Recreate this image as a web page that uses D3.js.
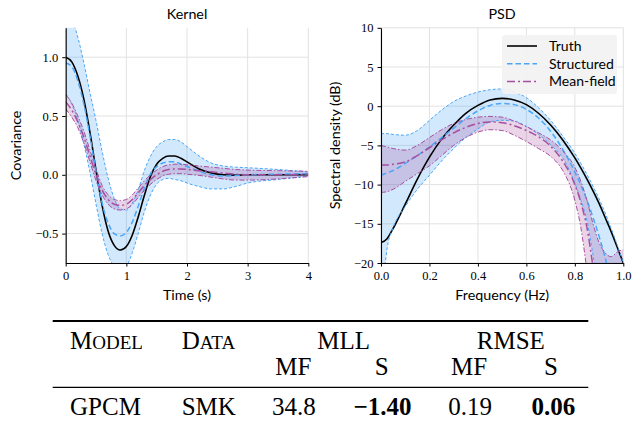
<!DOCTYPE html>
<html>
<head>
<meta charset="utf-8">
<script src="https://cdn.jsdelivr.net/npm/d3@7"></script>
<style>
  body { margin: 0; background: #fff; }
  svg { display: block; }
  .tick text { font-family: "Liberation Serif", serif; font-size: 12.5px; fill: #000; }
  .lbl { font-family: Lato, "DejaVu Sans", sans-serif; font-size: 14.3px; fill: #000; }
  .leg { font-family: Lato, "DejaVu Sans", sans-serif; font-size: 14px; fill: #000; }
  .tbl { font-family: "Liberation Serif", serif; font-size: 25px; fill: #000; }
</style>
</head>
<body>
<div id="chart"></div>
<script>
// ---- kernel panel (time in seconds) ----
const kernelTime = [0, 0.1, 0.2, 0.3, 0.4, 0.5, 0.6, 0.7, 0.8, 0.9, 1.0, 1.1, 1.2, 1.3, 1.4,
  1.5, 1.6, 1.7, 1.8, 1.9, 2.0, 2.2, 2.4, 2.6, 2.8, 3.0, 3.5, 4.0]
const kernelTruth = [1.00, 0.96, 0.84, 0.64, 0.36, 0.04, -0.26, -0.48, -0.60, -0.64, -0.61, -0.51, -0.35, -0.17, -0.01,
  0.09, 0.14, 0.16, 0.16, 0.14, 0.11, 0.05, 0.015, 0.0, -0.003, 0.0, 0.0, 0.0]
const kernelS = [0.95, 0.92, 0.80, 0.60, 0.33, 0.03, -0.24, -0.41, -0.50, -0.52, -0.49, -0.40, -0.26, -0.11, 0.01,
  0.07, 0.10, 0.11, 0.11, 0.09, 0.07, 0.03, 0.0, -0.01, -0.005, 0.0, 0.005, 0.01]
const kernelSUpper = [1.42, 1.33, 1.17, 0.95, 0.70, 0.46, 0.20, -0.03, -0.20, -0.29, -0.30, -0.24, -0.12, 0.04, 0.16,
  0.24, 0.28, 0.30, 0.30, 0.28, 0.24, 0.16, 0.10, 0.075, 0.065, 0.06, 0.045, 0.025]
const kernelSLower = [0.69, 0.60, 0.46, 0.26, 0.02, -0.25, -0.50, -0.68, -0.78, -0.82, -0.78, -0.66, -0.49, -0.31, -0.17,
  -0.08, -0.04, -0.03, -0.04, -0.05, -0.07, -0.10, -0.12, -0.12, -0.10, -0.07, -0.04, -0.01]
const kernelMF = [0.62, 0.55, 0.45, 0.32, 0.16, 0.00, -0.13, -0.21, -0.25, -0.26, -0.25, -0.21, -0.15, -0.09, -0.04,
  0.00, 0.03, 0.045, 0.05, 0.05, 0.045, 0.035, 0.025, 0.015, 0.005, 0.0, 0.0, 0.005]
const kernelMFUpper = [0.68, 0.61, 0.50, 0.37, 0.21, 0.05, -0.09, -0.17, -0.21, -0.22, -0.21, -0.17, -0.11, -0.05, 0.00,
  0.04, 0.07, 0.085, 0.09, 0.09, 0.085, 0.075, 0.065, 0.055, 0.045, 0.04, 0.035, 0.03]
const kernelMFLower = [0.56, 0.49, 0.40, 0.27, 0.11, -0.05, -0.17, -0.25, -0.29, -0.30, -0.29, -0.25, -0.19, -0.13, -0.08,
  -0.04, -0.01, 0.005, 0.01, 0.01, 0.005, -0.005, -0.02, -0.035, -0.045, -0.045, -0.035, -0.015]

// ---- PSD panel (frequency in Hz, values in dB) ----
const psdFreq = [0, 0.025, 0.05, 0.1, 0.15, 0.2, 0.25, 0.3, 0.35, 0.4, 0.45, 0.5, 0.55, 0.6, 0.65,
  0.7, 0.75, 0.8, 0.825, 0.85, 0.875, 0.9, 0.925, 0.95, 0.975, 1.0]
const psdTruth = [-17.4, -16.9, -15.6, -12.5, -9.3, -6.5, -4.2, -2.4, -0.9, 0.1, 0.8, 1.0, 0.8, 0.2, -0.9,
  -2.4, -4.3, -6.6, -7.9, -9.3, -10.8, -12.4, -14.2, -16.0, -18.0, -20.0]
const psdS = [-8.8, -8.5, -8.2, -7.3, -6.3, -5.2, -4.0, -2.8, -1.6, -0.6, 0.1, 0.35, 0.2, -0.4, -1.5,
  -3.2, -5.5, -8.4, -10.1, -12.0, -14.2, -16.6, -19.3, -22.5, -26, -30]
const psdSUpper = [-3.5, -3.5, -3.6, -3.7, -3.1, -1.8, -0.5, 0.6, 1.3, 1.8, 2.1, 2.2, 1.8, 1.1, -0.2,
  -1.8, -3.8, -6.0, -7.3, -8.7, -10.2, -11.8, -13.6, -15.6, -17.7, -20.0]
const psdSLower = [-26, -18.2, -15.5, -12.8, -10.6, -8.8, -7.0, -5.4, -4.0, -2.9, -2.0, -1.8, -1.9, -2.6, -3.6,
  -4.9, -6.6, -9.8, -12.0, -14.6, -19.0, -24, -29, -34, -38, -42]
const psdMF = [-7.5, -7.5, -7.4, -7.1, -6.3, -5.3, -4.3, -3.4, -2.7, -2.2, -2.0, -2.1, -2.5, -3.1, -3.9,
  -5.1, -7.0, -10.0, -12.3, -15.5, -20.5, -26, -30, -34, -38, -42]
const psdMFUpper = [-5.0, -5.2, -5.4, -5.6, -5.0, -4.0, -3.0, -2.2, -1.7, -1.4, -1.3, -1.4, -1.9, -2.6, -3.4,
  -4.3, -5.7, -7.8, -9.6, -12.0, -15.0, -17.4, -18.7, -19.2, -18.6, -18.3]
const psdMFLower = [-11.0, -10.9, -10.6, -9.6, -8.6, -7.6, -6.3, -5.0, -4.0, -3.3, -3.0, -3.1, -3.7, -4.5, -5.4,
  -6.4, -8.2, -12.0, -15.5, -21, -27, -32, -36, -40, -44, -48]

// ---- ticks and legend ----
const kernelXTicks = [0, 1, 2, 3, 4]
const kernelYTicks = [-0.5, 0, 0.5, 1.0]
const psdXTicks = [0, 0.2, 0.4, 0.6, 0.8, 1.0]
const psdYTicks = [-20, -15, -10, -5, 0, 5, 10]
const legendLabels = ['Truth', 'Structured', 'Mean-field']

// ---- table ----
const tableModels = ['GPCM']
const tableData = ['SMK']
const mllValues = [34.8, -1.40]   // MF, S
const rmseValues = [0.19, 0.06]   // MF, S

const width = 634
const height = 423
const blue = '#4aa6f7'
const purple = '#a64ea0'

const svg = d3.select('#chart').append('svg')
  .attr('width', width)
  .attr('height', height)
  .attr('viewBox', [0, 0, width, height])

svg.append('rect').attr('width', width).attr('height', height).attr('fill', '#fff')

const styles = {
  truth: { stroke: '#000', width: 1.6, dash: null },
  sMean: { stroke: blue, width: 1.5, dash: '5.5,3' },
  sBound: { stroke: blue, width: 1, dash: '3,2' },
  mfMean: { stroke: purple, width: 1.5, dash: '8,3,2,3' },
  mfBound: { stroke: purple, width: 1, dash: '5,2,1.5,2' },
}

function drawPanel(opts) {
  const { id, xs, xDomain, yDomain, xRange, yRange, xTicks, yTicks, xFmt, yFmt, title, xLabel, yLabel, yLabelX, series } = opts
  const x = d3.scaleLinear().domain(xDomain).range(xRange)
  const y = d3.scaleLinear().domain(yDomain).range(yRange)
  const g = svg.append('g')

  // clip region
  svg.append('clipPath').attr('id', id)
    .append('rect')
    .attr('x', xRange[0]).attr('y', yRange[1])
    .attr('width', xRange[1] - xRange[0]).attr('height', yRange[0] - yRange[1])

  // grid
  g.append('g').selectAll('line').data(xTicks).join('line')
    .attr('x1', (d) => x(d)).attr('x2', (d) => x(d))
    .attr('y1', yRange[0]).attr('y2', yRange[1])
    .attr('stroke', '#e2e2e2').attr('stroke-width', 1)
  g.append('g').selectAll('line').data(yTicks).join('line')
    .attr('x1', xRange[0]).attr('x2', xRange[1])
    .attr('y1', (d) => y(d)).attr('y2', (d) => y(d))
    .attr('stroke', '#e2e2e2').attr('stroke-width', 1)

  const plot = g.append('g').attr('clip-path', `url(#${id})`)
  const idx = d3.range(xs.length)

  // bands
  const area = (lo, hi) => d3.area()
    .x((i) => x(xs[i])).y0((i) => y(lo[i])).y1((i) => y(hi[i]))
    .curve(d3.curveMonotoneX)(idx)
  plot.append('path').attr('d', area(series.sLower, series.sUpper))
    .attr('fill', '#1e8cf0').attr('fill-opacity', 0.2)
  plot.append('path').attr('d', area(series.mfLower, series.mfUpper))
    .attr('fill', '#9a3a94').attr('fill-opacity', 0.22)

  const line = (vals) => d3.line()
    .x((i) => x(xs[i])).y((i) => y(vals[i]))
    .curve(d3.curveMonotoneX)(idx)
  const drawLine = (vals, st) => plot.append('path')
    .attr('d', line(vals))
    .attr('fill', 'none')
    .attr('stroke', st.stroke)
    .attr('stroke-width', st.width)
    .attr('stroke-dasharray', st.dash)

  drawLine(series.truth, styles.truth)
  drawLine(series.sUpper, styles.sBound)
  drawLine(series.sLower, styles.sBound)
  drawLine(series.s, styles.sMean)
  drawLine(series.mfUpper, styles.mfBound)
  drawLine(series.mfLower, styles.mfBound)
  drawLine(series.mf, styles.mfMean)

  // axes
  const xAxis = d3.axisBottom(x).tickValues(xTicks).tickFormat(xFmt).tickSize(3.5).tickSizeOuter(0).tickPadding(4.5)
  const yAxis = d3.axisLeft(y).tickValues(yTicks).tickFormat(yFmt).tickSize(3.5).tickSizeOuter(0).tickPadding(4)
  g.append('g').attr('transform', `translate(0,${yRange[0]})`).call(xAxis)
    .call((a) => a.select('.domain').attr('stroke-width', 1.1))
  g.append('g').attr('transform', `translate(${xRange[0]},0)`).call(yAxis)
    .call((a) => a.select('.domain').attr('stroke-width', 1.1))
  g.selectAll('.tick text').attr('font-family', null).attr('font-size', null)

  const cx = (xRange[0] + xRange[1]) / 2
  const cy = (yRange[0] + yRange[1]) / 2
  g.append('text').attr('class', 'lbl').attr('x', cx).attr('y', 19.3)
    .attr('text-anchor', 'middle').text(title)
  g.append('text').attr('class', 'lbl').attr('x', cx).attr('y', 299.5)
    .attr('text-anchor', 'middle').text(xLabel)
  g.append('text').attr('class', 'lbl')
    .attr('transform', `translate(${yLabelX},${cy}) rotate(-90)`)
    .attr('text-anchor', 'middle').text(yLabel)

  return { x, y, g }
}

drawPanel({
  id: 'clipKernel',
  xs: kernelTime,
  xDomain: [0, 4], yDomain: [-0.75, 1.25],
  xRange: [65.7, 308.3], yRange: [263, 27.8],
  xTicks: kernelXTicks, yTicks: kernelYTicks,
  xFmt: d3.format('d'), yFmt: d3.format('.1f'),
  title: 'Kernel', xLabel: 'Time (s)', yLabel: 'Covariance', yLabelX: 20.5,
  series: {
    truth: kernelTruth, s: kernelS, sUpper: kernelSUpper, sLower: kernelSLower,
    mf: kernelMF, mfUpper: kernelMFUpper, mfLower: kernelMFLower,
  },
})

drawPanel({
  id: 'clipPsd',
  xs: psdFreq,
  xDomain: [0, 1], yDomain: [-20, 10],
  xRange: [381, 623.3], yRange: [263, 27.8],
  xTicks: psdXTicks, yTicks: psdYTicks,
  xFmt: d3.format('.1f'), yFmt: d3.format('d'),
  title: 'PSD', xLabel: 'Frequency (Hz)', yLabel: 'Spectral density (dB)', yLabelX: 339.5,
  series: {
    truth: psdTruth, s: psdS, sUpper: psdSUpper, sLower: psdSLower,
    mf: psdMF, mfUpper: psdMFUpper, mfLower: psdMFLower,
  },
})

// legend
const legend = svg.append('g')
legend.append('rect')
  .attr('x', 502).attr('y', 35).attr('width', 115).attr('height', 59).attr('rx', 3)
  .attr('fill', '#f2f2f2').attr('fill-opacity', 0.92)
const legendStyles = [styles.truth, styles.sMean, styles.mfMean]
legendLabels.forEach((name, i) => {
  const ly = 46 + i * 17.8
  const st = legendStyles[i]
  legend.append('line')
    .attr('x1', 507).attr('x2', 537).attr('y1', ly).attr('y2', ly)
    .attr('stroke', st.stroke).attr('stroke-width', st.width)
    .attr('stroke-dasharray', st.dash)
  legend.append('text').attr('class', 'leg')
    .attr('x', 549).attr('y', ly + 4.8).text(name)
})

// table
const table = svg.append('g')
table.append('line').attr('x1', 52.7).attr('x2', 588.3).attr('y1', 321).attr('y2', 321)
  .attr('stroke', '#000').attr('stroke-width', 2)
table.append('line').attr('x1', 52.7).attr('x2', 588.3).attr('y1', 387.3).attr('y2', 387.3)
  .attr('stroke', '#000').attr('stroke-width', 1.3)

function smallCaps(x, y, word) {
  const t = table.append('text').attr('class', 'tbl').attr('x', x).attr('y', y)
  t.append('tspan').text(word[0])
  t.append('tspan').attr('font-size', 19).text(word.slice(1).toUpperCase())
}
smallCaps(70, 348.5, 'Model')
smallCaps(181.7, 348.5, 'Data')

const centered = (x, y, txt, bold) => table.append('text').attr('class', 'tbl')
  .attr('x', x).attr('y', y).attr('text-anchor', 'middle')
  .attr('font-weight', bold ? 'bold' : null).text(txt)

centered(343.7, 348.5, 'MLL')
centered(510.8, 348.5, 'RMSE')
const subCols = [293.3, 381.7, 469, 551]
;['MF', 'S', 'MF', 'S'].forEach((s, i) => centered(subCols[i], 375, s))

table.append('text').attr('class', 'tbl').attr('x', 70).attr('y', 415).text(tableModels[0])
table.append('text').attr('class', 'tbl').attr('x', 181.7).attr('y', 415).text(tableData[0])
centered(293.8, 415, d3.format('.1f')(mllValues[0]))
centered(382.5, 415, d3.format('.2f')(mllValues[1]), true)
centered(470, 415, d3.format('.2f')(rmseValues[0]))
centered(553.3, 415, d3.format('.2f')(rmseValues[1]), true)
</script>
</body>
</html>
